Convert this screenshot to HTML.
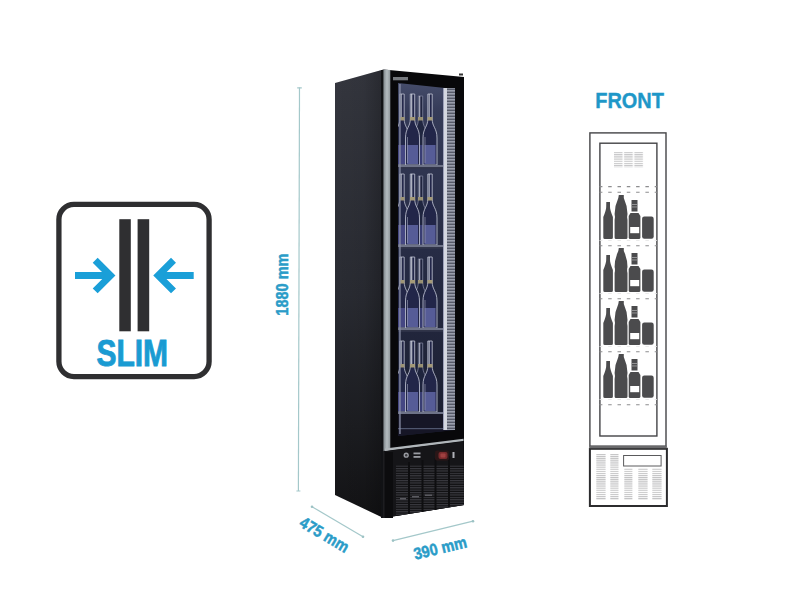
<!DOCTYPE html>
<html><head><meta charset="utf-8">
<style>
html,body{margin:0;padding:0;background:#fff;width:800px;height:600px;overflow:hidden}
svg{display:block}
text{font-family:"Liberation Sans",sans-serif;font-weight:bold}
</style></head><body>
<svg width="800" height="600" viewBox="0 0 800 600">
<defs>
  <filter id="soft" x="-5%" y="-5%" width="110%" height="110%"><feGaussianBlur stdDeviation="0.45"/></filter>
  <linearGradient id="side" gradientUnits="userSpaceOnUse" x1="0" y1="75" x2="0" y2="515">
    <stop offset="0" stop-color="#34363e"/>
    <stop offset="0.5" stop-color="#292b32"/>
    <stop offset="0.8" stop-color="#1c1d21"/>
    <stop offset="1" stop-color="#131315"/>
  </linearGradient>
  <linearGradient id="sideh" x1="0" y1="0" x2="1" y2="0">
    <stop offset="0" stop-color="#000" stop-opacity="0"/>
    <stop offset="0.6" stop-color="#000" stop-opacity="0.05"/>
    <stop offset="1" stop-color="#000" stop-opacity="0.25"/>
  </linearGradient>
  <linearGradient id="glass" x1="0" y1="0" x2="0" y2="1">
    <stop offset="0" stop-color="#454c6a"/>
    <stop offset="0.08" stop-color="#353b58"/>
    <stop offset="0.5" stop-color="#262b44"/>
    <stop offset="1" stop-color="#1a1e30"/>
  </linearGradient>
  <linearGradient id="silver" x1="0" y1="0" x2="1" y2="0">
    <stop offset="0" stop-color="#7f878c"/>
    <stop offset="0.5" stop-color="#b4bcc0"/>
    <stop offset="1" stop-color="#8e969a"/>
  </linearGradient>
  <pattern id="hatch" width="8" height="3" patternUnits="userSpaceOnUse">
    <rect width="8" height="3" fill="#565a68"/>
    <rect width="8" height="1.6" fill="#9a9eac"/>
  </pattern>
  <pattern id="vent" width="20" height="2.4" patternUnits="userSpaceOnUse">
    <rect width="20" height="2.4" fill="#0e0e10"/>
    <rect width="20" height="1.2" fill="#3a3a40"/>
  </pattern>
  <g id="bottles">
<path d="M418.3 -71 H422.7 V-48 C422.7 -40 427.0 -39 427.0 -29 V-2 H414.0 V-29 C414.0 -39 418.3 -40 418.3 -48 Z" fill="#1e2240" stroke="#7c8098" stroke-width="0.9" opacity="0.9"/>
<rect x="415.5" y="-22" width="10.0" height="19" fill="#3c407a" opacity="0.9"/>
<rect x="418.0" y="-50" width="5.0" height="3.5" fill="#a49a78" opacity="0.9"/>
<rect x="419.0" y="-71" width="1.3" height="21" fill="#d0d3de" opacity="0.7200000000000001"/>
<path d="M416.0 -30 V-4" stroke="#9ea2b8" stroke-width="1" opacity="0.54"/>
<path d="M399.8 -73 H404.2 V-48 C404.2 -40 409 -39 409 -29 V-2 H395 V-29 C395 -39 399.8 -40 399.8 -48 Z" fill="#232848" stroke="#b4b8ca" stroke-width="0.9" opacity="0.95"/>
<rect x="396.5" y="-22" width="11" height="19" fill="#4a4e8e" opacity="0.85"/>
<rect x="399.5" y="-50" width="5.0" height="3.5" fill="#a49a78" opacity="0.95"/>
<rect x="400.5" y="-73" width="1.3" height="23" fill="#d0d3de" opacity="0.76"/>
<path d="M397 -30 V-4" stroke="#9ea2b8" stroke-width="1" opacity="0.57"/>
<path d="M410.3 -73 H414.7 V-48 C414.7 -40 419.5 -39 419.5 -29 V-2 H405.5 V-29 C405.5 -39 410.3 -40 410.3 -48 Z" fill="#232848" stroke="#b4b8ca" stroke-width="0.9" opacity="1.0"/>
<rect x="407.0" y="-22" width="11" height="19" fill="#6064a6" opacity="0.85"/>
<rect x="410.0" y="-50" width="5.0" height="3.5" fill="#a49a78" opacity="1.0"/>
<rect x="411.0" y="-73" width="1.3" height="23" fill="#d0d3de" opacity="0.8"/>
<path d="M407.5 -30 V-4" stroke="#9ea2b8" stroke-width="1" opacity="0.6"/>
<path d="M427.8 -73 H432.2 V-48 C432.2 -40 437 -39 437 -29 V-2 H423 V-29 C423 -39 427.8 -40 427.8 -48 Z" fill="#232848" stroke="#b4b8ca" stroke-width="0.9" opacity="1.0"/>
<rect x="424.5" y="-22" width="11" height="19" fill="#6064a6" opacity="0.85"/>
<rect x="427.5" y="-50" width="5.0" height="3.5" fill="#a49a78" opacity="1.0"/>
<rect x="428.5" y="-73" width="1.3" height="23" fill="#d0d3de" opacity="0.8"/>
<path d="M425 -30 V-4" stroke="#9ea2b8" stroke-width="1" opacity="0.6"/>
<rect x="398" y="-2" width="47" height="2.2" fill="#6e7388"/>
<rect x="398" y="0.2" width="47" height="1.6" fill="#30344a"/>
</g>
  <g id="fbot">
    <!-- local: bottles bottom at y=0 (abs 239) -->
    <!-- beer bottle -->
    <path d="M606.3 -37 h3.7 v5 q0 3 2.9 10 v20.5 q0 1.5 -1.5 1.5 h-6.6 q-1.5 0 -1.5 -1.5 v-20.5 q2.9 -7 2.9 -10z" fill="#4b4b4d"/>
    <!-- big bottle -->
    <path d="M618.8 -44 h5 v3 q3.7 8 3.7 16 q-0.8 3 0 6 v17.5 q0 1.5 -1.5 1.5 h-9.9 q-1.5 0 -1.5 -1.5 v-17.5 q0.8 -3 0 -6 q0 -8 3.7 -16z" fill="#4b4b4d"/>
    <!-- liquor bottle -->
    <path d="M631.5 -39 h6 v11.5 h-6z" fill="#4b4b4d"/>
    <path d="M630.5 -26 h8 l1.9 3 v21.5 q0 1.5 -1.5 1.5 h-8.7 q-1.5 0 -1.5 -1.5 v-21.5z" fill="#4b4b4d"/>
    <rect x="630.2" y="-12" width="9" height="6.2" fill="#ffffff"/>
    <rect x="632" y="-35" width="5" height="0.9" fill="#fff" opacity="0.45"/>
    <rect x="632" y="-32.5" width="5" height="0.9" fill="#fff" opacity="0.45"/>
    <!-- can -->
    <rect x="642.1" y="-22.4" width="11.6" height="22.2" rx="2.2" fill="#4b4b4d"/>
    <!-- dashed shelf -->
    <path d="M599.5 1.5 H657" stroke="#e4e4e5" stroke-width="0.8" stroke-dasharray="3.5 5.8" stroke-dashoffset="0.6"/>
    <path d="M599.5 6.7 H657" stroke="#8d8d8f" stroke-width="1.1" stroke-dasharray="3.5 5.8" stroke-dashoffset="0.6"/>
  </g>
  <pattern id="vgrid" width="10.2" height="2.2" patternUnits="userSpaceOnUse" x="614" y="151.9">
    <rect x="0" y="0" width="8.6" height="1.2" fill="#9c9c9e"/>
  </pattern>
  <pattern id="bvent" width="10" height="2.1" patternUnits="userSpaceOnUse" y="454">
    <rect x="0" y="0" width="10" height="1.1" fill="#9a9a9c"/>
  </pattern>
</defs>

<!-- ===== SLIM icon ===== -->
<rect x="58.9" y="204.4" width="150.2" height="172.2" rx="15" ry="15" fill="#fff" stroke="#2f2f31" stroke-width="5.3"/>
<rect x="119.3" y="219.2" width="11.5" height="112.1" fill="#2f2f31"/>
<rect x="137.6" y="219.2" width="11.6" height="112.1" fill="#2f2f31"/>
<g stroke="#1a9fd8" stroke-width="7" fill="none" stroke-linejoin="miter" stroke-miterlimit="4">
  <path d="M75 275.6 H110"/>
  <path d="M95.2 260.3 L110.5 275.6 L95.2 290.9"/>
  <path d="M193.7 275.6 H158.7"/>
  <path d="M173.5 260.3 L158.2 275.6 L173.5 290.9"/>
</g>
<text x="132.3" y="366.3" font-size="37.5" fill="#1a9bd2" stroke="#1a9bd2" stroke-width="0.9" text-anchor="middle" transform="translate(132.3 0) scale(0.80 1) translate(-132.3 0)">SLIM</text>

<!-- ===== Dimension lines ===== -->
<g stroke="#a4c8ca" stroke-width="1.2" fill="none">
  <path d="M299.5 87.5 L298.4 491"/>
  <path d="M297.2 87.8 h4.6 M296.4 491 h4"/>
  <path d="M312 506.7 L363 536.7"/>
  <path d="M393 540.6 L473 521.2"/>
</g>
<g fill="#9cc2c4">
  <circle cx="312" cy="506.8" r="1.3"/><circle cx="363" cy="536.7" r="1.3"/>
  <circle cx="393" cy="540.6" r="1.3"/><circle cx="473" cy="521.2" r="1.3"/>
</g>
<text fill="#2a9cc8" stroke="#2a9cc8" stroke-width="0.5" text-anchor="middle" transform="translate(287.6 284.6) rotate(-90) scale(0.88 1)" font-size="16.5">1880 mm</text>
<text fill="#2a9cc8" stroke="#2a9cc8" stroke-width="0.5" text-anchor="middle" transform="translate(321.5 539.5) rotate(30.5) scale(0.88 1)" font-size="16.5">475 mm</text>
<text fill="#2a9cc8" stroke="#2a9cc8" stroke-width="0.5" text-anchor="middle" transform="translate(441.5 553.5) rotate(-13.6) scale(0.88 1)" font-size="16.5">390 mm</text>

<!-- ===== Fridge ===== -->
<!-- side panel -->
<polygon points="335,83 383.5,69.4 383.5,518 335,495" fill="url(#side)"/>
<polygon points="335,83 383.5,69.4 383.5,518 335,495" fill="url(#sideh)"/>
<rect x="381" y="70" width="2.5" height="448" fill="#111215"/>
<!-- front body -->
<polygon points="383.5,69.4 464,77 464,505 383.5,518" fill="#08080a"/>
<!-- silver strip -->
<polygon points="383.5,69.4 390.3,70 390.3,450 383.5,451" fill="url(#silver)"/>
<!-- glass -->
<polygon points="398,83 454.5,89 454.5,430 398,436" fill="url(#glass)"/>
<g clip-path="url(#gclip)"><g filter="url(#soft)">
  <use href="#bottles" transform="translate(0 167)"/>
  <use href="#bottles" transform="translate(0 247)"/>
  <use href="#bottles" transform="translate(0 330)"/>
  <use href="#bottles" transform="translate(0 414)"/>
  <rect x="398" y="414" width="50" height="22" fill="#151827"/>
  <rect x="398" y="428" width="50" height="1.2" fill="#50566e"/>
</g></g>
<clipPath id="gclip"><polygon points="398,83 454.5,89 454.5,430 398,436"/></clipPath>
<!-- LED strip -->
<rect x="447" y="88" width="8" height="342" fill="url(#hatch)"/>
<rect x="444" y="88" width="3" height="342" fill="#d4d7e0"/>
<rect x="443" y="88" width="1" height="342" fill="#9ca0b8"/>
<!-- glass left highlight -->
<rect x="399.3" y="84" width="1.3" height="350" fill="#8b90a8"/>
<!-- logo -->
<rect x="393" y="77" width="15" height="3.3" fill="#76797e"/>
<rect x="459" y="73.5" width="4" height="2" fill="#333"/>
<!-- door bottom silver line -->
<polygon points="385,448.5 463.5,438.8 463.5,441 385,451" fill="#b0b6ba"/>
<!-- base -->
<polygon points="383.5,451.5 463.5,441.5 464,505 383.5,518" fill="#151518"/>
<g clip-path="url(#bclip)">
  <rect x="396" y="465" width="68" height="55" fill="url(#vent)"/>
</g>
<clipPath id="bclip"><polygon points="396,462 463.5,452 464,505 396,516"/></clipPath>
<g fill="#0e0e10">
  <polygon points="408,462 410,462 410,514 408,514"/>
  <polygon points="421.5,460 423.5,460 423.5,512 421.5,512"/>
  <polygon points="434.5,458 436.5,458 436.5,510 434.5,510"/>
  <polygon points="448,456 450,456 450,507 448,507"/>
</g>
<rect x="385" y="452" width="8" height="66" fill="#0c0c0e"/>
<circle cx="406.2" cy="455.2" r="2.6" fill="#9a9ca2"/>
<circle cx="406.2" cy="455.2" r="1.2" fill="#3a3a3e"/>
<rect x="413.5" y="452.5" width="7" height="1.8" fill="#9a9ca2"/>
<rect x="413.5" y="456" width="7" height="1.8" fill="#9a9ca2"/>
<rect x="435" y="450.5" width="14" height="10" rx="2" fill="#2a1617"/>
<rect x="438.5" y="452" width="9" height="7" rx="2" fill="#7a2a2c"/>
<rect x="440.5" y="453.5" width="5" height="4" rx="1" fill="#a04040"/>
<rect x="452.5" y="452" width="2" height="6" fill="#b0b2b8"/>
<rect x="400" y="498" width="6" height="1.5" fill="#5a5a60"/>
<rect x="412" y="496" width="7" height="1.5" fill="#5a5a60"/>
<rect x="425" y="494.5" width="7" height="1.5" fill="#5a5a60"/>

<!-- ===== FRONT diagram ===== -->
<text x="629.6" y="108.3" font-size="22" fill="#1e97c8" stroke="#1e97c8" stroke-width="0.4" text-anchor="middle" transform="translate(629.6 0) scale(0.905 1) translate(-629.6 0)">FRONT</text>
<g fill="none" stroke="#444446">
  <rect x="589.9" y="132.9" width="76.1" height="313.3" stroke-width="1.4"/>
  <rect x="599.9" y="143.2" width="57" height="292.8" stroke-width="1.4"/>
  <rect x="589.9" y="448.8" width="77" height="57.2" stroke="#2c2c2e" stroke-width="2"/>
  <path d="M589.2 447 H666.8" stroke="#6a6a6c" stroke-width="2.5"/>
</g>
<rect x="614" y="151.9" width="29.4" height="15.4" fill="url(#vgrid)" opacity="0.55"/>
<path d="M599.5 186.6 H657" stroke="#8d8d8f" stroke-width="1.1" stroke-dasharray="3.5 5.8" stroke-dashoffset="0.6"/>
<path d="M599.5 192.2 H657" stroke="#8d8d8f" stroke-width="1.1" stroke-dasharray="3.5 5.8" stroke-dashoffset="0.6"/>
<use href="#fbot" transform="translate(0 239)"/>
<use href="#fbot" transform="translate(0 292)"/>
<use href="#fbot" transform="translate(0 345)"/>
<use href="#fbot" transform="translate(0 398)"/>
<!-- base vents -->
<g fill="url(#bvent)" opacity="0.6">
  <rect x="596.3" y="454" width="9.3" height="46"/>
  <rect x="610.3" y="454" width="8.2" height="46"/>
  <rect x="624.3" y="468" width="8.1" height="32"/>
  <rect x="638.3" y="468" width="9.3" height="32"/>
  <rect x="652.3" y="468" width="9.3" height="32"/>
</g>
<rect x="623.6" y="455.5" width="37.5" height="10.5" fill="#fff" stroke="#5a5a5c" stroke-width="1"/>
</svg>
</body></html>
